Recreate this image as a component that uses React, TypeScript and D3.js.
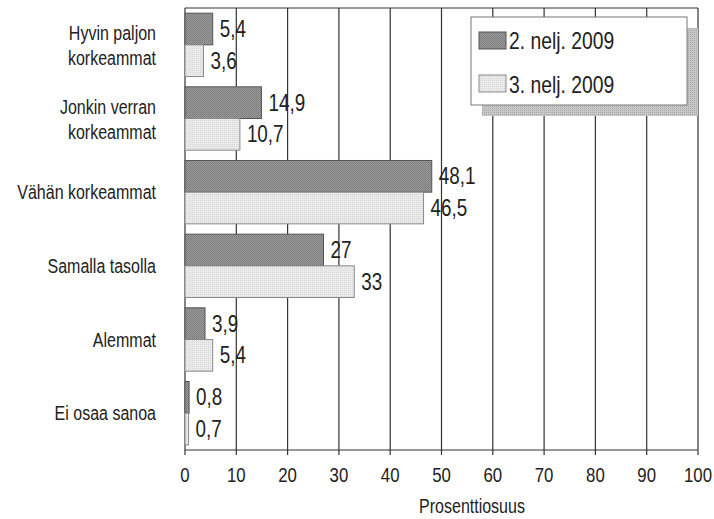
import React from "react";
import * as d3 from "d3";

const categories = [
  ["Hyvin paljon", "korkeammat"],
  ["Jonkin verran", "korkeammat"],
  ["Vähän korkeammat"],
  ["Samalla tasolla"],
  ["Alemmat"],
  ["Ei osaa sanoa"],
];
const seriesNames = ["2. nelj. 2009", "3. nelj. 2009"];
const q2Values = [5.4, 14.9, 48.1, 27, 3.9, 0.8];
const q3Values = [3.6, 10.7, 46.5, 33, 5.4, 0.7];
const valueLabelsQ2 = ["5,4", "14,9", "48,1", "27", "3,9", "0,8"];
const valueLabelsQ3 = ["3,6", "10,7", "46,5", "33", "5,4", "0,7"];
const xTicks = [0, 10, 20, 30, 40, 50, 60, 70, 80, 90, 100];
const axisTitle = "Prosenttiosuus";

const FONT = "'Liberation Sans', Arial, sans-serif";
const SX = 0.8;

function CText(props: { x: number; y: number; size: number; anchor?: string; sx?: number; children: React.ReactNode }) {
  const { x, y, size, anchor = "start", sx = SX, children } = props;
  return (
    <text transform={`translate(${x},${y}) scale(${sx},1)`} textAnchor={anchor} fontSize={size} fill="#222" fontFamily={FONT}>
      {children}
    </text>
  );
}

export default function App() {
  const W = 714, H = 519;
  const left = 185, right = 698, top = 8, bottom = 450;
  const x = d3.scaleLinear().domain([0, 100]).range([left, right]);
  const y = d3.scaleBand<number>().domain(d3.range(categories.length)).range([top, bottom]).paddingInner(0.14).paddingOuter(0.07);
  const bw = y.bandwidth() / 2;
  const series = [
    { vals: q2Values, labels: valueLabelsQ2, fill: "url(#pd)", stroke: "#555" },
    { vals: q3Values, labels: valueLabelsQ3, fill: "url(#pl)", stroke: "#8a8a8a" },
  ];
  return (
    <svg width={W} height={H} style={{ position: "absolute", left: 0, top: 0, background: "#fff" }}>
      <defs>
        <pattern id="pd" width="2" height="2" patternUnits="userSpaceOnUse">
          <rect width="2" height="2" fill="#9a9a9a" />
          <rect width="1" height="1" fill="#7a7a7a" />
          <rect x="1" y="1" width="1" height="1" fill="#828282" />
        </pattern>
        <pattern id="pl" width="2" height="2" patternUnits="userSpaceOnUse">
          <rect width="2" height="2" fill="#ebebeb" />
          <rect width="1" height="1" fill="#d6d6d6" />
        </pattern>
        <pattern id="ps" width="2" height="2" patternUnits="userSpaceOnUse">
          <rect width="2" height="2" fill="#c8c8c8" />
          <rect width="1" height="1" fill="#a8a8a8" />
        </pattern>
      </defs>
      {xTicks.map((t) => (
        <line key={"g" + t} x1={x(t)} x2={x(t)} y1={top} y2={bottom + 5} stroke="#333" strokeWidth={1.2} />
      ))}
      <line x1={left} x2={right} y1={top} y2={top} stroke="#333" strokeWidth={1.2} />
      <line x1={left} x2={right} y1={bottom} y2={bottom} stroke="#333" strokeWidth={1.2} />
      {categories.map((c, i) => {
        const cy = (y(i) as number) + y.bandwidth() / 2;
        return (
          <g key={"c" + i}>
            {series.map((s, j) => {
              const y0 = (y(i) as number) + j * bw;
              return (
                <g key={j}>
                  <rect x={x(0)} y={y0} width={x(s.vals[i]) - x(0)} height={bw} fill={s.fill} stroke={s.stroke} strokeWidth={1} />
                  <CText x={x(s.vals[i]) + 7} y={y0 + bw / 2 + 8} size={23} sx={0.82}>{s.labels[i]}</CText>
                </g>
              );
            })}
            {c.length === 1 ? (
              <CText x={156} y={cy + 7} size={20} anchor="end">{c[0]}</CText>
            ) : (
              c.map((line, k) => (
                <CText key={k} x={156} y={cy - 5 + k * 25} size={20} anchor="end">{line}</CText>
              ))
            )}
          </g>
        );
      })}
      {xTicks.map((t) => (
        <CText key={"t" + t} x={x(t)} y={482} size={21} anchor="middle">{String(t)}</CText>
      ))}
      <CText x={472} y={513} size={20} anchor="middle">{axisTitle}</CText>
      <rect x={482} y={28} width={216} height={88} fill="url(#ps)" />
      <rect x={471} y={17} width={216} height={88} fill="#fff" stroke="#777" strokeWidth={1} />
      {seriesNames.map((n, j) => (
        <g key={"l" + j}>
          <rect x={479} y={32 + j * 43} width={27} height={17} fill={series[j].fill} stroke={series[j].stroke} />
          <CText x={509} y={49 + j * 44} size={23} sx={0.84}>{n}</CText>
        </g>
      ))}
    </svg>
  );
}
